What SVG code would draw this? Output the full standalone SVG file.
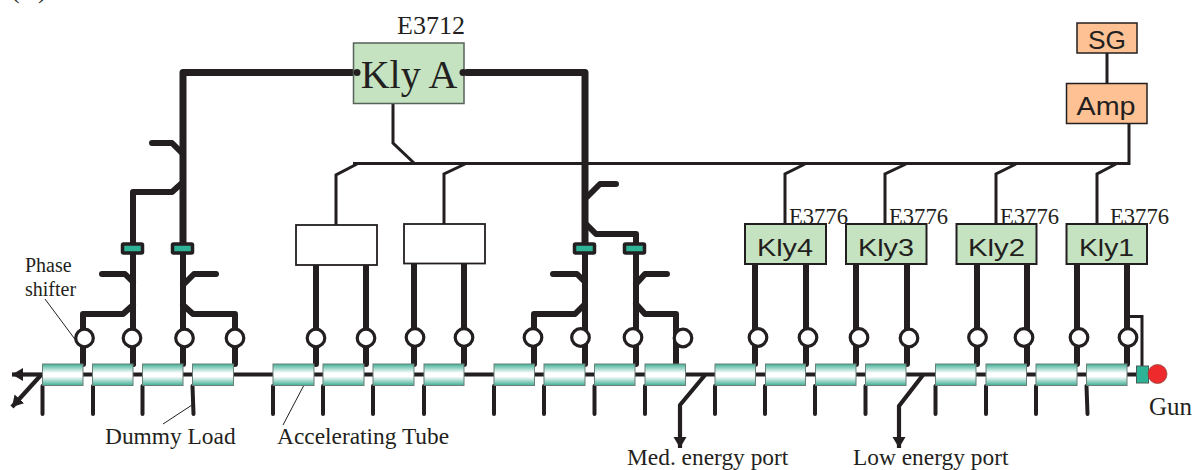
<svg xmlns="http://www.w3.org/2000/svg" width="1197" height="470" viewBox="0 0 1197 470">
<style>
text{fill:#231f20;font-family:"Liberation Serif","Times New Roman",serif}
.sans{font-family:"Liberation Sans",Arial,sans-serif}
.c{text-anchor:middle}
.l{font-size:23.4px}
.e{font-size:22.6px}
.kn{font-size:24px}
.k{fill:#c5e3c0;stroke:#231f20;stroke-width:2}
.ka{fill:#c5e3c0;stroke:#55625a;stroke-width:1.5}
.o{fill:#fdc193;stroke:#231f20;stroke-width:1.500}
.w{fill:#fff;stroke:#231f20;stroke-width:1.800}
.t{fill:url(#tube);stroke:#6b7f78;stroke-width:1}
.h{fill:#2fb396;stroke:#231f20;stroke-width:3.500}
.ps{fill:#fff;stroke:#231f20;stroke-width:3.200}
.beam{fill:none;stroke:#231f20;stroke-width:4.200;stroke-linejoin:round}
.wg{fill:none;stroke:#231f20;stroke-width:6;stroke-linecap:round;stroke-linejoin:round}
.wm{fill:none;stroke:#231f20;stroke-width:7;stroke-linejoin:round;stroke-linecap:round}
.sig{fill:none;stroke:#231f20;stroke-width:3}
.d{fill:none;stroke:#231f20;stroke-width:4;stroke-linecap:round}
.ln{fill:none;stroke:#231f20;stroke-width:1}
</style>
<defs>
<linearGradient id="tube" x1="0" y1="0" x2="0" y2="1">
<stop offset="0" stop-color="#3fae95"/><stop offset="0.42" stop-color="#ffffff"/><stop offset="0.58" stop-color="#ffffff"/><stop offset="1" stop-color="#3fae95"/>
</linearGradient>
<marker id="ah" markerUnits="userSpaceOnUse" markerWidth="14" markerHeight="14" refX="11" refY="6.500" orient="auto"><path d="M0 0L11 6.500L0 13Z" fill="#231f20"/></marker>
</defs>
<text x="11 38" y="-1.600" font-size="26">()</text>
<g id="connectors">
<path class="beam" d="M42 374.500H1136"/>
<path class="beam" marker-end="url(#ah)" d="M42 374.500H12"/>
<path class="beam" marker-end="url(#ah)" d="M41 375L12 407"/>
<path class="beam" marker-end="url(#ah)" d="M705 375L680 405V448"/>
<path class="beam" marker-end="url(#ah)" d="M923 375L899 406V448"/>
<path class="wm" d="M357 72.500H183V248M467 72.500H585V248"/>
<path class="wg" d="M183 248V364M133 364V192H172L182 183M152 143H172L182 153"/>
<path class="wg" d="M133 248V364M83 364V314H123L133 305M102 274H125L133 282M183 305L193 314H235V364M216 274H194L183 285"/>
<path class="wg" d="M585 248V364M534 364V314H575L585 304M553 274H577L585 282M636 234V364M585 223L596 234H636M636 304L645 314H676V364M667 274H645L636 284M616 184H600L587 197"/>
<path class="wg" d="M316 264V364M366 264V364M414 264V364M464 264V364M755 264V364M806 264V364M856 264V364M907 264V364M977 264V364M1027 264V364M1077 264V364M1127 264V364"/>
<path class="sig" d="M353 163.500H1129V123M393 103V143L414 163M357 164L336 175V225M465 164L444 174V224M805 164L785 174V224M906 164L885 174V224M1016 164L996 174V224M1116 164L1097 174V224"/>
<path class="sig" d="M1127 316.500H1142V366"/>
<path class="sig" d="M1107 52V84"/>
<path class="d" d="M42.500 386V414M93 386V414M142.500 386V414M192.500 386L193.500 414M273 386V414M323 386V414M373 386V414M424 386V414M494 386V414M544 386V414M594.500 386V414M645 386V414M715 386V414M765 386V414M815 386V414M865.500 386V414M935.500 386V414M986 386V414M1036 386V414M1086.500 386L1087.500 414"/>
<path class="ln" d="M45 299L77 342M163 424L192 405M283 425L304 385"/>
</g>
<g id="tubes">
<rect class="t" x="42.500" y="364" width="40.500" height="21.500"/><rect class="t" x="92.500" y="364" width="40.500" height="21.500"/><rect class="t" x="142.500" y="364" width="40.500" height="21.500"/><rect class="t" x="192.500" y="364" width="41" height="21.500"/>
<rect class="t" x="273" y="364" width="41" height="21.500"/><rect class="t" x="323" y="364" width="41" height="21.500"/><rect class="t" x="373" y="364" width="41" height="21.500"/><rect class="t" x="424" y="364" width="40" height="21.500"/>
<rect class="t" x="494" y="364" width="40.500" height="21.500"/><rect class="t" x="544" y="364" width="41" height="21.500"/><rect class="t" x="594.500" y="364" width="40.500" height="21.500"/><rect class="t" x="645" y="364" width="40.500" height="21.500"/>
<rect class="t" x="715" y="364" width="40.500" height="21.500"/><rect class="t" x="765.500" y="364" width="40" height="21.500"/><rect class="t" x="815.500" y="364" width="40.500" height="21.500"/><rect class="t" x="865.500" y="364" width="40.500" height="21.500"/>
<rect class="t" x="935.500" y="364" width="40.500" height="21.500"/><rect class="t" x="986" y="364" width="40.500" height="21.500"/><rect class="t" x="1036" y="364" width="41" height="21.500"/><rect class="t" x="1086.500" y="364" width="40.500" height="21.500"/>
</g>
<g id="phase-shifters">
<circle class="ps" cx="84.500" cy="338" r="8.800"/><circle class="ps" cx="132" cy="338" r="8.800"/><circle class="ps" cx="184.500" cy="338" r="8.800"/><circle class="ps" cx="235" cy="338" r="8.800"/>
<circle class="ps" cx="316" cy="338" r="8.800"/><circle class="ps" cx="366" cy="338" r="8.800"/><circle class="ps" cx="415" cy="337.500" r="8.800"/><circle class="ps" cx="464" cy="337.500" r="8.800"/>
<circle class="ps" cx="533" cy="337.500" r="8.800"/><circle class="ps" cx="580.500" cy="337.500" r="8.800"/><circle class="ps" cx="633" cy="337.500" r="8.800"/><circle class="ps" cx="683" cy="338" r="8.800"/>
<circle class="ps" cx="758" cy="337.500" r="8.800"/><circle class="ps" cx="808" cy="337.500" r="8.800"/><circle class="ps" cx="859" cy="337.500" r="8.800"/><circle class="ps" cx="909" cy="338" r="8.800"/>
<circle class="ps" cx="977.500" cy="337.500" r="8.800"/><circle class="ps" cx="1024" cy="337.500" r="8.800"/><circle class="ps" cx="1079" cy="337.500" r="8.800"/><circle class="ps" cx="1128" cy="337.500" r="8.800"/>
</g>
<g id="hybrids">
<rect class="h" x="122.500" y="244" width="20" height="9" rx="1"/><rect class="h" x="172.500" y="244" width="20" height="9" rx="1"/><rect class="h" x="574.500" y="244" width="20" height="9" rx="1"/><rect class="h" x="624.500" y="244" width="20" height="9" rx="1"/>
</g>
<g id="kly-a"><rect class="ka" x="353.500" y="43" width="110.500" height="60.500"/><circle cx="357" cy="72.500" r="3.500" fill="#231f20"/><circle cx="463" cy="72.500" r="3.500" fill="#231f20"/><text x="409" y="88" class="c" font-size="40">Kly A</text><text x="431" y="34" class="c" font-size="26">E3712</text></g>
<g id="load-1"><rect class="w" x="296" y="225" width="81" height="40"/></g>
<g id="load-2"><rect class="w" x="404" y="224" width="81" height="39.500"/></g>
<g id="kly4"><rect class="k" x="745" y="224" width="81" height="40"/><text x="757" y="255.500" class="sans kn" textLength="56" lengthAdjust="spacingAndGlyphs">Kly4</text><text x="789" y="223.500" class="e">E3776</text></g>
<g id="kly3"><rect class="k" x="846" y="224" width="80.500" height="40"/><text x="858" y="255.500" class="sans kn" textLength="56" lengthAdjust="spacingAndGlyphs">Kly3</text><text x="889" y="223.500" class="e">E3776</text></g>
<g id="kly2"><rect class="k" x="956.500" y="224" width="80" height="40"/><text x="968" y="255.500" class="sans kn" textLength="57" lengthAdjust="spacingAndGlyphs">Kly2</text><text x="1000" y="223.500" class="e">E3776</text></g>
<g id="kly1"><rect class="k" x="1066.500" y="224" width="80.500" height="40"/><text x="1079" y="255.500" class="sans kn" textLength="55" lengthAdjust="spacingAndGlyphs">Kly1</text><text x="1110" y="223.500" class="e">E3776</text></g>
<g id="sg"><rect class="o" x="1077" y="23" width="60" height="30"/><text x="1088" y="49" class="sans" font-size="26" textLength="38" lengthAdjust="spacingAndGlyphs">SG</text></g>
<g id="amp"><rect class="o" x="1066.500" y="83.500" width="80.500" height="40"/><text x="1076.500" y="115" class="sans" font-size="25" textLength="59" lengthAdjust="spacingAndGlyphs">Amp</text></g>
<g id="gun"><rect x="1136.500" y="366" width="12" height="17" fill="#2fb396" stroke="#4a5a55" stroke-width="1"/><circle cx="1157.500" cy="374" r="9.500" fill="#ee2a2c" stroke="#8a4a40" stroke-width="0.800"/><text x="1149" y="415" font-size="25">Gun</text></g>
<g id="labels">
<text x="25" y="272" font-size="20">Phase</text><text x="25" y="296" font-size="20">shifter</text>
<text x="105" y="444" class="l">Dummy Load</text>
<text x="277" y="444" class="l">Accelerating Tube</text>
<text x="627" y="465" class="l">Med. energy port</text>
<text x="853" y="465" class="l">Low energy port</text>
</g>
</svg>
